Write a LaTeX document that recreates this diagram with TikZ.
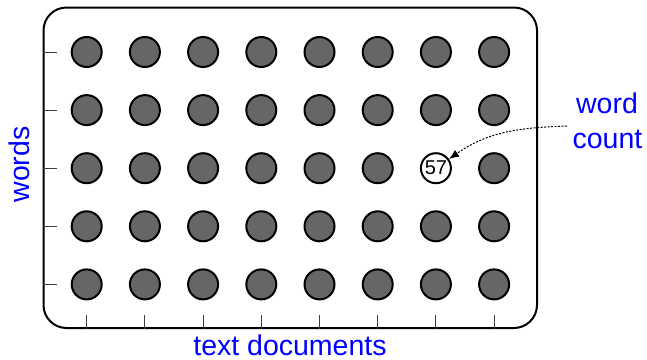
\documentclass[tikz,border=0pt]{standalone}
\usepackage{fontspec}
\setmainfont{Liberation Sans}
\usetikzlibrary{arrows.meta}
\definecolor{dotgray}{HTML}{666666}
\definecolor{lblblue}{RGB}{0,0,255}
\begin{document}
\begin{tikzpicture}[x=1pt,y=-1pt,
  frame/.style={draw=black,line width=2pt,rounded corners=23pt,inner sep=0pt,
    minimum width=493.5pt,minimum height=320.5pt},
  dot/.style={circle,draw=black,line width=2pt,fill=dotgray,minimum size=30pt,inner sep=0pt},
  countdot/.style={circle,draw=black,line width=2pt,fill=white,minimum size=30pt,inner sep=0pt,
    font=\fontsize{20}{20}\selectfont},
  tick/.style={draw=black!75,line width=1pt},
  lbl/.style={text=lblblue,inner sep=0pt,font=\fontsize{28.5}{34}\selectfont},
  pointer/.style={draw=black,line width=1pt,dash pattern=on 2pt off 1.5pt,
    -{Latex[length=10pt,width=8pt]}}]
\useasboundingbox (0,0) rectangle (647,359);
\node[frame] (frame) at (290.25,167.75) {};
\foreach \i in {0,...,7}{
  \foreach \j in {0,...,4}{
    \pgfmathsetmacro{\cx}{86.7+58.2*\i}
    \pgfmathsetmacro{\cy}{52+58.1*\j}
    \ifnum\i=6 \ifnum\j=2
      \node[countdot] (d-\i-\j) at (\cx,\cy) {57};
    \else
      \node[dot] (d-\i-\j) at (\cx,\cy) {};
    \fi\else
      \node[dot] (d-\i-\j) at (\cx,\cy) {};
    \fi
  }
}
\foreach \j in {0,...,4}{
  \draw[tick] (frame.west |- d-0-\j) -- +(14.5,0);
}
\foreach \i in {0,...,7}{
  \draw[tick] (frame.south -| d-\i-0) -- +(0,-14);
}
\node[lbl,anchor=base] (xlbl) at (290,355) {text documents};
\node[lbl,anchor=base,rotate=90] (ylbl) at (29,164.5) {words};
\node[lbl,anchor=base] (wordlbl) at (607,113) {word};
\node[lbl,anchor=base] (countlbl) at (607.5,148) {count};
\coordinate (astart) at (567,126);
\draw[pointer] (astart) to[out=182,in=35] (d-6-2);
\end{tikzpicture}
\end{document}
